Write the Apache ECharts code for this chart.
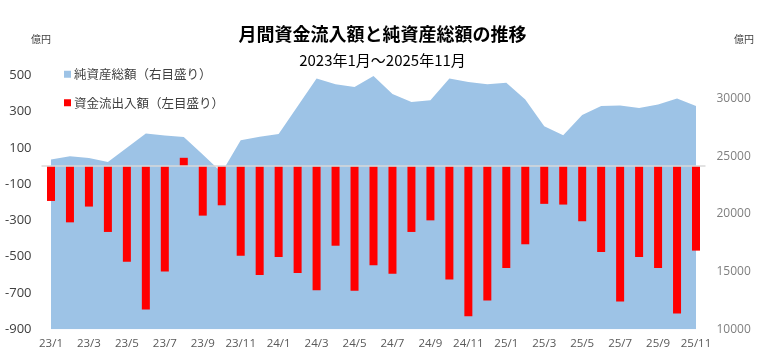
<!DOCTYPE html>
<html><head><meta charset="utf-8">
<script src="https://cdn.jsdelivr.net/npm/echarts@6/dist/echarts.min.js"></script>
<style>html,body{margin:0;padding:0;background:#fff}#c{width:765px;height:364px}</style>
</head><body><div id="c"></div>
<script>
var categories = ['23/1','23/2','23/3','23/4','23/5','23/6','23/7','23/8','23/9','23/10','23/11','23/12',
 '24/1','24/2','24/3','24/4','24/5','24/6','24/7','24/8','24/9','24/10','24/11','24/12',
 '25/1','25/2','25/3','25/4','25/5','25/6','25/7','25/8','25/9','25/10','25/11'];
var netAssets = [24720,24990,24850,24500,25730,26970,26790,26670,25150,23600,26390,26680,
 26930,29330,31730,31240,31000,31950,30400,29710,29850,31730,31440,31240,
 31380,29910,27600,26810,28580,29360,29390,29190,29480,30000,29360];
var flows = [-192,-310,-223,-363,-527,-791,-581,46,-273,-216,-494,-601,
 -501,-590,-684,-439,-688,-547,-594,-363,-299,-625,-828,-741,
 -562,-431,-208,-212,-304,-474,-747,-501,-562,-813,-466];
var leftTicks = [-900,-700,-500,-300,-100,100,300,500];
var rightTicks = [10000,15000,20000,25000,30000];
var seriesNames = ['純資産総額（右目盛り）','資金流出入額（左目盛り）'];

var jp = '"Noto Sans CJK JP", sans-serif';
var chart = echarts.init(document.getElementById('c'), null, {renderer:'canvas'});
chart.setOption({
  animation:false,
  backgroundColor:'#ffffff',
  title:[
    {text:'月間資金流入額と純資産総額の推移', left:'center', top:20,
     textStyle:{fontFamily:jp, fontWeight:'bold', fontSize:18, color:'#000'}},
    {text:'2023年1月～2025年11月', left:'center', top:48,
     textStyle:{fontFamily:jp, fontWeight:'normal', fontSize:15, color:'#000'}}
  ],
  graphic:[
    {type:'text', left:31, top:34, style:{text:'億円', font:'10px '+jp, fill:'#404040'}},
    {type:'text', left:734, top:34, style:{text:'億円', font:'10px '+jp, fill:'#404040'}}
  ],
  legend:{
    orient:'vertical', left:59, top:63, itemGap:16, itemWidth:7, itemHeight:7, icon:'rect',
    textStyle:{fontFamily:jp, fontSize:12.5, color:'#404040', padding:[0,0,0,-2]},
    data:seriesNames
  },
  grid:{left:41.5, right:59.5, top:75.5, bottom:34.7, containLabel:false},
  xAxis:{
    type:'category', data:categories, boundaryGap:true,
    axisLine:{show:false}, axisTick:{show:false},
    axisLabel:{interval:1, color:'#595959', fontSize:11.5, fontFamily:'"Open Sans", sans-serif', margin:8}
  },
  yAxis:[
    {type:'value', min:-900, max:500, interval:100, position:'left',
     splitLine:{show:false}, axisLine:{show:false}, axisTick:{show:false},
     axisLabel:{color:'#404040', fontSize:13, fontFamily:'"Open Sans", sans-serif', margin:10,
       formatter:function(v){return leftTicks.indexOf(Math.round(v))>=0 ? String(Math.round(v)) : '';}}},
    {type:'value', min:10000, max:32000, interval:1000, position:'right',
     splitLine:{show:false}, axisLine:{show:false}, axisTick:{show:false},
     axisLabel:{color:'#7f7f7f', fontSize:12, fontFamily:'"Open Sans", sans-serif', margin:11,
       formatter:function(v){return rightTicks.indexOf(Math.round(v))>=0 ? String(Math.round(v)) : '';}}}
  ],
  series:[
    {name:seriesNames[0], type:'line', yAxisIndex:1, data:netAssets, symbol:'none',
     lineStyle:{width:0, color:'#9DC3E6'}, itemStyle:{color:'#9DC3E6'},
     areaStyle:{color:'#9DC3E6', opacity:1, origin:'start'}, z:1},
    {name:seriesNames[1], type:'bar', yAxisIndex:0, data:flows, barWidth:8,
     itemStyle:{color:'#FF0000'}, z:3,
     markLine:{silent:true, symbol:'none', label:{show:false},
       lineStyle:{color:'#D9D9D9', width:1.5, type:'solid'}, data:[{yAxis:0}], z:4}}
  ]
});
</script></body></html>
